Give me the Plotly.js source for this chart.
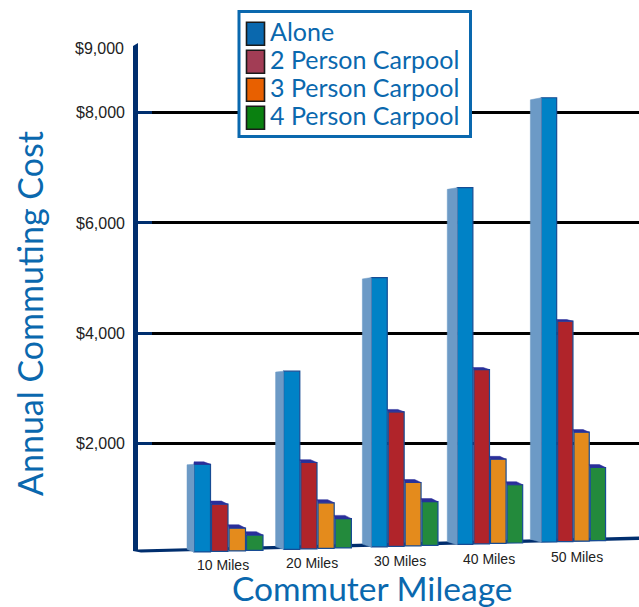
<!DOCTYPE html>
<html><head><meta charset="utf-8">
<script src="https://cdn.plot.ly/plotly-3.0.1.min.js"></script>
<style>html,body{margin:0;padding:0;background:#fff}</style></head>
<body><div id="chart" style="width:639px;height:607px"></div>
<script>
// ---- data ----
const categories = ["10 Miles","20 Miles","30 Miles","40 Miles","50 Miles"];
const alone   = [1670,3320,5010,6640,8270];
const carpool2 = [960,1710,2620,3380,4250];
const carpool3 = [530,985,1350,1770,2255];
const carpool4 = [405,700,1005,1310,1620];
const seriesNames = ["Alone","2 Person Carpool","3 Person Carpool","4 Person Carpool"];
const yTickVals = [2000,4000,6000,8000];
const yTickText = ["$2,000","$4,000","$6,000","$8,000"];
const topLabel = "$9,000";
const xTitle = "Commuter Mileage";
const yTitle = "Annual Commuting Cost";
const barColors = ["#0082c6","#b0242a","#e48b1c","#238a3c"];
const legendColors = ["#0a68ae","#a23d55","#e86000","#0a8010"];

// ---- perspective helpers for the fake-3D look ----
const W=639,H=607,L=133,T=43,B=554,YMAX=9262;
const k=(B-T)/YMAX;
const val=py=>(B-py)/k;
const xp=px=>(px-L)/(W-L);
const yp=py=>(B-py)/(B-T);
const floorPx=x=>552-0.0286*(x-200);
const floorV=x=>val(floorPx(x));
const centre=i=>229+89*i-0.92*i*(i-1);
const slot=i=>17.5-0.3*i;
const start=i=>centre(i)-2*slot(i);
const cap=(v,s)=>(s===0?Math.max(0,4.5*(1-v/3600)):Math.max(0,3.6*(1-v/8000)))/k;

const all=[alone,carpool2,carpool3,carpool4];
const traces=[];
all.forEach((vals,s)=>{
  const x=[],y=[],base=[],width=[];
  vals.forEach((v,i)=>{
    const x0=start(i)+s*slot(i), w=slot(i)-1, xc=x0+w/2;
    const f=floorV(xc);
    x.push(xc);base.push(f);y.push(v-cap(v,s)-f);width.push(w);
  });
  traces.push({type:"bar",name:seriesNames[s],x,y,base,width,showlegend:false,
    hoverinfo:"skip",marker:{color:barColors[s],line:{color:"#174c94",width:1.2}}});
});
// side faces of the tallest series
const sx=[],sy=[];
alone.forEach((v,i)=>{
  const x0=start(i),d=7+i;
  const t=v-cap(v,0),f=floorV(x0);
  const st=t-(0.5+0.4*i)/k;
  sx.push(x0-d,x0,x0,x0-d,x0-d,null);
  sy.push(st,t,f,f+3/k,st,null);
});
traces.push({type:"scatter",mode:"lines",x:sx,y:sy,fill:"toself",fillcolor:"#6c9ac6",
  line:{color:"#6c9ac6",width:0.5},hoverinfo:"skip",showlegend:false,cliponaxis:false});
// top caps
const cx=[],cy=[];
all.forEach((vals,s)=>vals.forEach((v,i)=>{
  const x0=start(i)+s*slot(i),w=slot(i)-1,t=v-cap(v,s);
  if(cap(v,s)<=0.5/k) return;
  cx.push(x0-(s?1:0),x0+w*0.6,x0+w,x0,x0-(s?1:0),null);
  cy.push(v,v,t,t,v,null);
}));
traces.push({type:"scatter",mode:"lines",x:cx,y:cy,fill:"toself",fillcolor:"#2a2f9a",
  line:{color:"#2a2f9a",width:0.5},hoverinfo:"skip",showlegend:false,cliponaxis:false});

const navy="#002e6e",blue="#0a68ae";
const pth=pts=>"M"+pts.map(p=>p[0]+","+p[1]).join("L")+"Z";
const shapes=[{type:"path",layer:"between",xref:"x",yref:"y",fillcolor:navy,line:{width:0},
  path:pth([[L,val(46)],[138,val(43)],[138,val(549.5)],[W,val(536.5)],[W,val(540)],[L+8,val(552.5)],[L,val(551)]])}];
const annotations=[];
const note=(px,py,text,font,extra)=>annotations.push(Object.assign({xref:"paper",yref:"paper",x:xp(px),y:yp(py),text,
  showarrow:false,xanchor:"center",yanchor:"middle",font},extra||{}));
// legend box
shapes.push({type:"rect",xref:"paper",yref:"paper",x0:xp(239),x1:xp(470.5),y0:yp(136.5),y1:yp(11.5),
  fillcolor:"#fff",line:{color:blue,width:3},layer:"above"});
seriesNames.forEach((n,s)=>{
  const top=21.7+28*s;
  shapes.push({type:"rect",xref:"paper",yref:"paper",x0:xp(246.5),x1:xp(264.5),y0:yp(top+23.5),y1:yp(top+0.5),
    fillcolor:legendColors[s],line:{color:"#1a1a1a",width:1.6},layer:"above"});
  note(268,top+9.5,n,{family:"Lato",size:25,color:blue},{xanchor:"left"});
});
// category labels follow the tilted floor
categories.forEach((c,i)=>note(223+88.5*i,565-2*i,c,{family:"Liberation Sans",size:14,color:"#222"}));
note(126,48,topLabel,{family:"Liberation Sans",size:16,color:"#222"},{xanchor:"right"});
note(372,588,xTitle,{family:"Lato",size:33.5,color:blue});
note(29,314,yTitle,{family:"Lato",size:34,color:blue},{textangle:-90});

Plotly.newPlot("chart",traces,{
  width:W,height:H,autosize:false,barmode:"overlay",showlegend:false,
  margin:{l:L,r:0,t:T,b:H-B,pad:0},paper_bgcolor:"#fff",plot_bgcolor:"#fff",
  xaxis:{range:[L,W],showgrid:false,zeroline:false,showticklabels:false,ticks:"",showline:false},
  yaxis:{range:[0,YMAX],tickmode:"array",tickvals:yTickVals,ticktext:yTickText,showgrid:true,gridcolor:"#000",gridwidth:3,
    zeroline:false,showline:false,ticks:"inside",ticklen:19,tickwidth:3,tickcolor:navy,ticklabelstandoff:7,
    tickfont:{family:"Liberation Sans",size:16,color:"#222"}},
  shapes,annotations
},{displayModeBar:false,staticPlot:true});
</script></body></html>
